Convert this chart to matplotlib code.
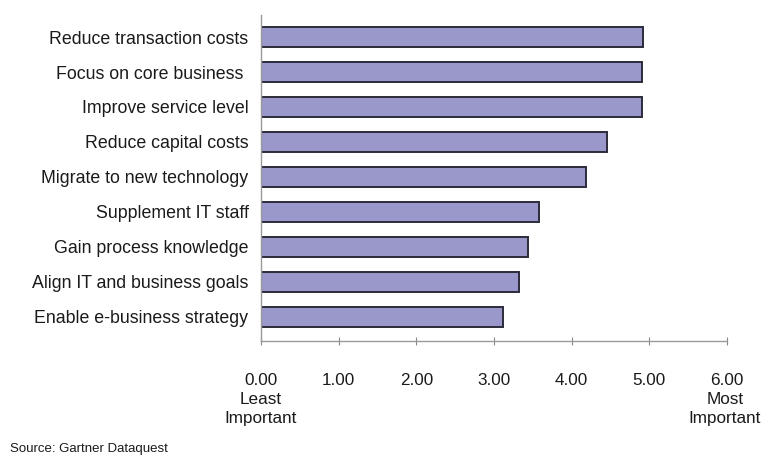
import matplotlib
matplotlib.use("Agg")
import matplotlib.pyplot as plt

categories = [
    "Reduce transaction costs",
    "Focus on core business ",
    "Improve service level",
    "Reduce capital costs",
    "Migrate to new technology",
    "Supplement IT staff",
    "Gain process knowledge",
    "Align IT and business goals",
    "Enable e-business strategy",
]
values = [4.92, 4.90, 4.90, 4.45, 4.18, 3.58, 3.44, 3.32, 3.12]
xticks = [0, 1, 2, 3, 4, 5, 6]
xtick_labels = ["0.00", "1.00", "2.00", "3.00", "4.00", "5.00", "6.00"]

plt.rcParams['font.family'] = ['Liberation Sans', 'DejaVu Sans']

fig = plt.figure(figsize=(7.68, 4.57), dpi=100)
ax = fig.add_axes([261/768, 1 - 341/457, (727 - 261)/768, (341 - 15)/457])

ypos = list(range(len(categories)))[::-1]
ax.barh(ypos, values, height=0.57, color="#9a97cb", edgecolor="#2b2b3b", linewidth=1.4)

ax.set_xlim(0, 6)
ax.set_ylim(-0.69, 8.63)
ax.set_yticks(ypos)
ax.set_yticklabels(categories, fontsize=12.8, color="#1a1a1a")
ax.tick_params(axis='y', length=0, pad=9)
ax.set_xticks(xticks)
ax.set_xticklabels(xtick_labels, fontsize=12.3, color="#1a1a1a")
ax.tick_params(axis='x', direction='inout', length=6, color="#888888", pad=20)

for s in ["top", "right"]:
    ax.spines[s].set_visible(False)
for s in ["left", "bottom"]:
    ax.spines[s].set_color("#999999")
    ax.spines[s].set_linewidth(1.0)

fig.text(261/768, 1 - 409/457, "Least\nImportant", ha="center", va="center",
         fontsize=12.3, color="#1a1a1a", linespacing=1.35)
fig.text(725/768, 1 - 409/457, "Most\nImportant", ha="center", va="center",
         fontsize=12.3, color="#1a1a1a", linespacing=1.35)
fig.text(10/768, 1 - 449/457, "Source: Gartner Dataquest", ha="left", va="center",
         fontsize=9.5, color="#1a1a1a")

fig.savefig("out.png", dpi=100)
